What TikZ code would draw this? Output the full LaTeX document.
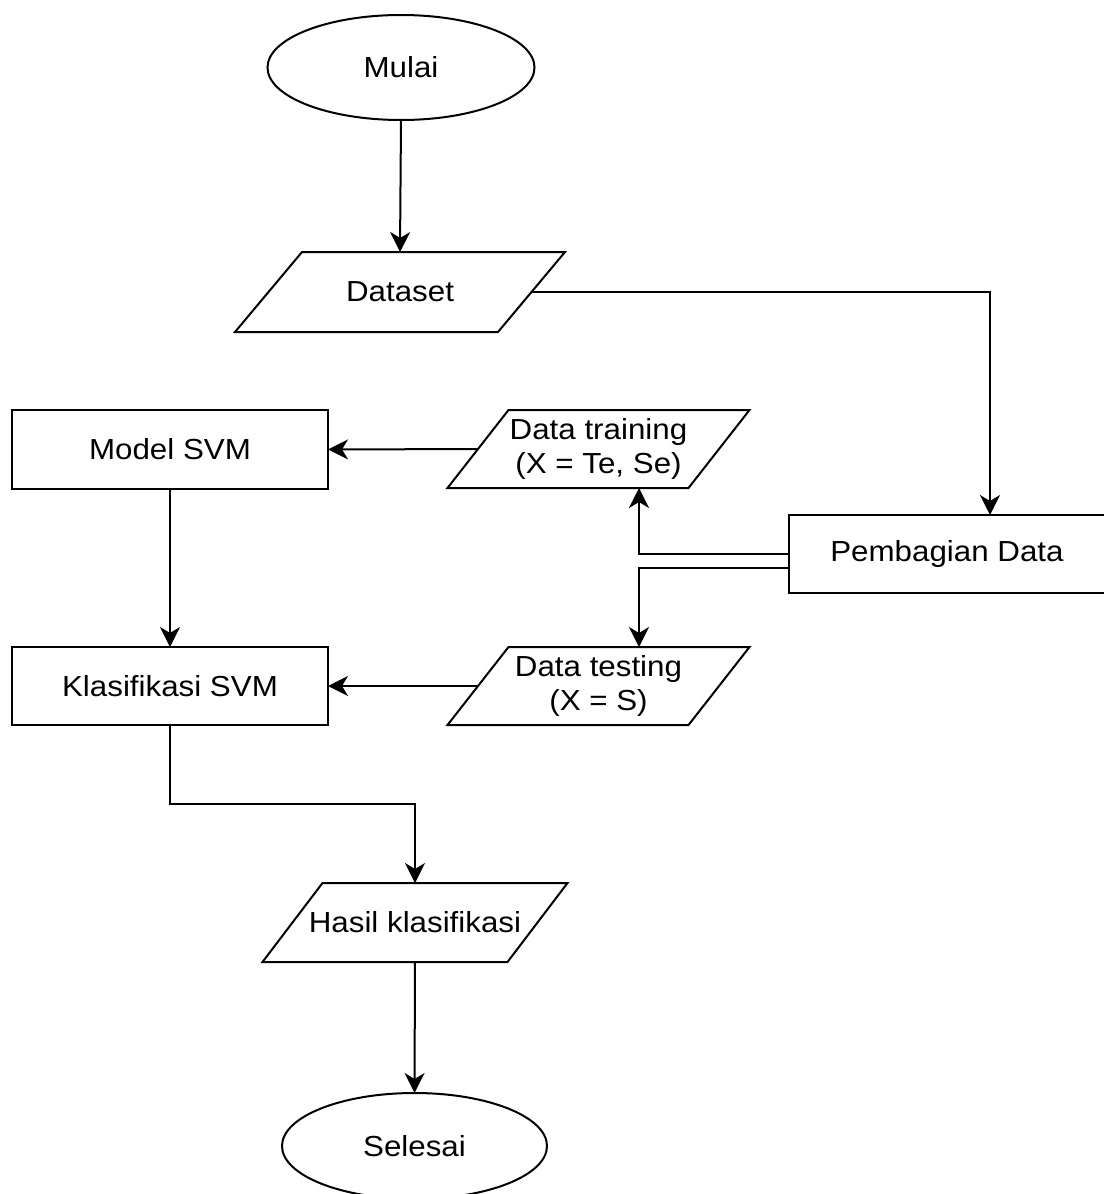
\documentclass[tikz,border=0pt]{standalone}
\usepackage{fontspec}
\setmainfont{Liberation Sans}[FakeStretch=1.08]
\usetikzlibrary{shapes.geometric,arrows.meta,calc}
\begin{document}
\begin{tikzpicture}[x=1pt,y=1pt,
  every node/.style={font=\fontsize{29}{34}\selectfont, inner sep=0pt, outer sep=0pt, align=center},
  box/.style={draw, line width=2pt, minimum width=316pt},
  term/.style={draw, ellipse, line width=2pt},
  iobox/.style={minimum width=#1},
  arr/.style={line width=2pt, -{Stealth[length=20pt,width=20pt,inset=6pt]}},
  ln/.style={line width=2pt}
]
\useasboundingbox (0,0) rectangle (1103,-1194);
% terminators
\node[term, minimum width=267pt, minimum height=105pt] (mulai) at (401,-67.5) {Mulai};
\node[term, minimum width=265pt, minimum height=106pt] (selesai) at (414.5,-1146) {Selesai};
% io nodes (parallelograms drawn around)
\node[iobox=263pt, minimum height=80pt] (ds) at (400,-292) {Dataset};
\node[iobox=241pt, minimum height=78pt] (tr) at (598.5,-449) {Data training\\(X = Te, Se)};
\node[iobox=241pt, minimum height=78pt] (te) at (598.5,-686) {Data testing\\(X = S)};
\node[iobox=245pt, minimum height=79pt] (hk) at (415,-922.5) {Hasil klasifikasi};
\foreach \n/\s in {ds/33.5, tr/30.5, te/30.5, hk/30}{
  \draw[ln, line join=miter] ([xshift=\s pt]\n.north west) -- ([xshift=\s pt]\n.north east)
    -- ([xshift=-\s pt]\n.south east) -- ([xshift=-\s pt]\n.south west) -- cycle;
}
% process boxes
\node[box, minimum height=79pt] (model) at (170,-449.5) {Model SVM};
\node[box, minimum height=78pt] (klas) at (170,-686) {Klasifikasi SVM};
\node[box, minimum height=78pt] (pd) at (947,-554) {Pembagian Data};
% connectors
\draw[arr] (mulai.south) -- (ds.north);
\draw[arr] (ds.east) -| ([xshift=43pt]pd.north);
\draw[arr] (pd.west) -| ([xshift=40.5pt]tr.south);
\draw[arr] ([yshift=-14pt]pd.west) -| ([xshift=40.5pt]te.north);
\draw[arr] (tr.west) -- (model.east);
\draw[arr] (te.west) -- (klas.east);
\draw[arr] (model.south) -- (klas.north);
\draw[arr] (klas.south) -- ++(0,-79) -| (hk.north);
\draw[arr] (hk.south) -- (selesai.north);
\end{tikzpicture}
\end{document}
